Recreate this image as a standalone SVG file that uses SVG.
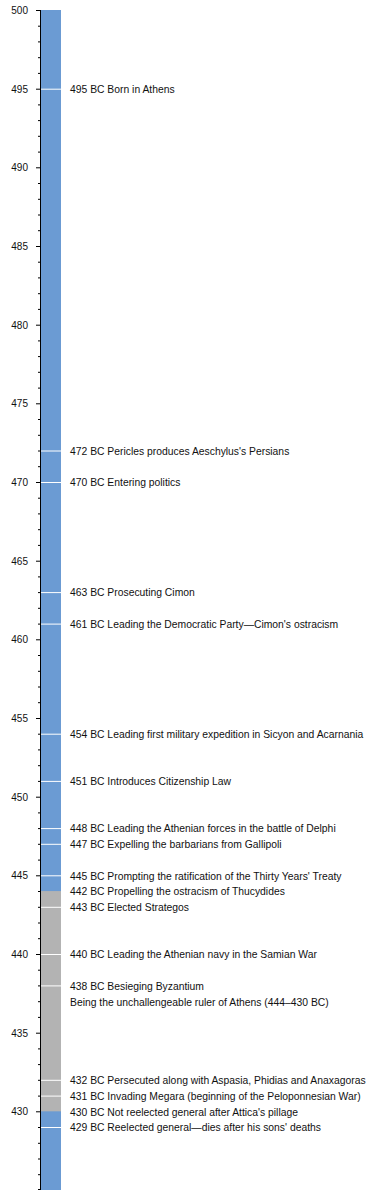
<svg xmlns="http://www.w3.org/2000/svg" width="390" height="1200" viewBox="0 0 390 1200">
<style>
text{font-family:"Liberation Sans",Arial,sans-serif;font-size:10px;fill:#111}
#labels text{font-size:10.35px}
.ax{text-anchor:end}
.ev{stroke:#fff;stroke-width:1}
.tk{stroke:#000;stroke-width:1}
</style>
<rect width="390" height="1200" fill="#fff"/>
<g id="bar">
<rect x="41" y="10" width="20" height="1180" fill="#6b9bd3"/>
<rect x="41" y="891.07" width="20" height="220.26" fill="#b3b3b3"/>
</g>
<g id="axis">
<line class="tk" x1="40.5" y1="10" x2="40.5" y2="1190"/>
<path class="tk" fill="none" d="M36 10.5H41M36 89.2H41M36 167.8H41M36 246.5H41M36 325.2H41M36 403.8H41M36 482.5H41M36 561.2H41M36 639.8H41M36 718.5H41M36 797.2H41M36 875.8H41M36 954.5H41M36 1033.2H41M36 1111.8H41"/>
<path class="tk" fill="none" d="M38 26.2H41M38 41.9H41M38 57.7H41M38 73.4H41M38 104.9H41M38 120.6H41M38 136.3H41M38 152.1H41M38 183.5H41M38 199.3H41M38 215H41M38 230.7H41M38 262.2H41M38 277.9H41M38 293.7H41M38 309.4H41M38 340.9H41M38 356.6H41M38 372.3H41M38 388.1H41M38 419.5H41M38 435.3H41M38 451H41M38 466.7H41M38 498.2H41M38 513.9H41M38 529.7H41M38 545.4H41M38 576.9H41M38 592.6H41M38 608.3H41M38 624.1H41M38 655.5H41M38 671.3H41M38 687H41M38 702.7H41M38 734.2H41M38 749.9H41M38 765.7H41M38 781.4H41M38 812.9H41M38 828.6H41M38 844.3H41M38 860.1H41M38 891.5H41M38 907.3H41M38 923H41M38 938.7H41M38 970.2H41M38 985.9H41M38 1001.7H41M38 1017.4H41M38 1048.9H41M38 1064.6H41M38 1080.3H41M38 1096.1H41M38 1127.5H41M38 1143.3H41M38 1159H41M38 1174.7H41M38 1189.5H41"/>
<text class="ax" x="28" y="13.8">500</text>
<text class="ax" x="28" y="92.5">495</text>
<text class="ax" x="28" y="171.1">490</text>
<text class="ax" x="28" y="249.8">485</text>
<text class="ax" x="28" y="328.5">480</text>
<text class="ax" x="28" y="407.1">475</text>
<text class="ax" x="28" y="485.8">470</text>
<text class="ax" x="28" y="564.5">465</text>
<text class="ax" x="28" y="643.1">460</text>
<text class="ax" x="28" y="721.8">455</text>
<text class="ax" x="28" y="800.5">450</text>
<text class="ax" x="28" y="879.1">445</text>
<text class="ax" x="28" y="957.8">440</text>
<text class="ax" x="28" y="1036.5">435</text>
<text class="ax" x="28" y="1115.1">430</text>
</g>
<g id="events">
<path class="ev" d="M41 89.2H61M41 451H61M41 482.5H61M41 592.6H61M41 624.1H61M41 734.2H61M41 781.4H61M41 828.6H61M41 844.3H61M41 875.8H61M41 907.3H61M41 954.5H61M41 985.9H61M41 1080.3H61M41 1096.1H61M41 1127.5H61"/>
</g>
<g id="labels">
<text x="70" y="93">495 BC Born in Athens</text>
<text x="70" y="454.8">472 BC Pericles produces Aeschylus's Persians</text>
<text x="70" y="486.3">470 BC Entering politics</text>
<text x="70" y="596.4">463 BC Prosecuting Cimon</text>
<text x="70" y="627.9">461 BC Leading the Democratic Party—Cimon's ostracism</text>
<text x="70" y="738">454 BC Leading first military expedition in Sicyon and Acarnania</text>
<text x="70" y="785.2">451 BC Introduces Citizenship Law</text>
<text x="70" y="832.4">448 BC Leading the Athenian forces in the battle of Delphi</text>
<text x="70" y="848.1">447 BC Expelling the barbarians from Gallipoli</text>
<text x="70" y="879.6">445 BC Prompting the ratification of the Thirty Years' Treaty</text>
<text x="70" y="895.3">442 BC Propelling the ostracism of Thucydides</text>
<text x="70" y="911.1">443 BC Elected Strategos</text>
<text x="70" y="958.3">440 BC Leading the Athenian navy in the Samian War</text>
<text x="70" y="989.7">438 BC Besieging Byzantium</text>
<text x="70" y="1005.5">Being the unchallengeable ruler of Athens (444–430 BC)</text>
<text x="70" y="1084.1">432 BC Persecuted along with Aspasia, Phidias and Anaxagoras</text>
<text x="70" y="1099.9">431 BC Invading Megara (beginning of the Peloponnesian War)</text>
<text x="70" y="1115.6">430 BC Not reelected general after Attica's pillage</text>
<text x="70" y="1131.3">429 BC Reelected general—dies after his sons' deaths</text>
</g>
</svg>
